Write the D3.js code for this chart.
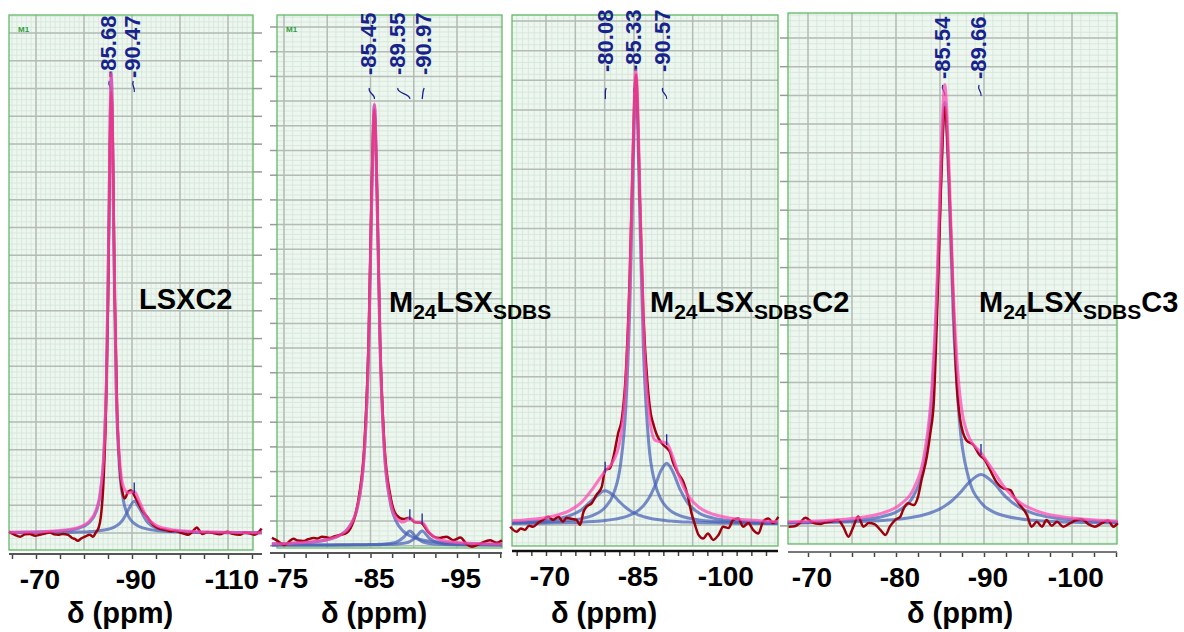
<!DOCTYPE html>
<html>
<head>
<meta charset="utf-8">
<title>29Si MAS NMR spectra</title>
<script src="https://d3js.org/d3.v7.min.js"></script>
<style>
body { margin: 0; background: #fff; }
text { font-family: "Liberation Sans", Arial, sans-serif; }
.comp { fill: none; stroke: #4660b6; stroke-width: 3px; stroke-opacity: 0.72; }
.exp { fill: none; stroke: #a0000e; stroke-width: 2.5px; }
.fit { fill: none; stroke: #ff4cb6; stroke-width: 3px; stroke-opacity: 0.75; }
.tick text { font-size: 28px; font-weight: bold; fill: #000; }
.peaklab { font-size: 22px; font-weight: bold; fill: #17238c; }
</style>
</head>
<body>
<div id="spectra"></div>
<script>
// ---------- data (ppm, intensity in % of main peak) ----------
// panel 1 : LSXC2
var p1Ppm  = [-64.4,-68,-72,-76,-79,-81,-82.5,-83.5,-84.2,-84.7,-85.2,-85.45,-85.68,-85.9,-86.2,-86.7,-87.4,-88.2,-89.2,-90.47,-91.5,-93,-95,-98,-102,-107,-112,-117];
var p1Fit  = [0.14,0.21,0.34,0.65,1.3,2.5,5.0,9.9,18.9,34.5,68.9,91.2,101,92.1,65.7,33.6,16.3,10.2,8.8,9.1,7.0,3.6,1.7,0.8,0.4,0.2,0.1,0.05];
var p1C1   = [0.10,0.16,0.26,0.52,1.09,2.19,4.6,9.3,18.3,33.8,68,90.3,100,91,64.4,32,14.2,7.2,3.8,2.1,1.43,0.91,0.56,0.32,0.18,0.1,0.06,0.04];
var p1C2   = [0.04,0.055,0.08,0.13,0.21,0.30,0.41,0.53,0.65,0.75,0.88,0.96,1.04,1.13,1.26,1.54,2.08,3.06,5.0,7.0,5.5,2.69,1.14,0.46,0.2,0.1,0.06,0.04];
var p1ExpPpm = [-64.4,-65.6,-66.7,-67.7,-68.7,-69.8,-70.8,-71.9,-72.9,-73.8,-74.6,-75.6,-76.7,-77.5,-78.1,-78.7,-79.4,-80.2,-81.2,-81.9,-82.5,-83.0,-83.5,-84.0,-84.5,-85.0,-85.4,-85.68,-86.0,-86.4,-86.9,-87.5,-88.0,-88.5,-89.2,-89.8,-90.4,-91.3,-92.2,-93.1,-94.4,-95.8,-97.0,-97.9,-99.0,-100.0,-101.0,-101.7,-102.6,-103.5,-104.6,-105.8,-106.9,-108.3,-109.8,-111.0,-112.5,-113.4,-114.2,-115.6,-116.4,-117.0];
var p1ExpInt = [0.3,-0.4,-0.8,-0.3,-0.2,-0.6,-0.4,-0.1,0.1,-0.3,-0.4,-0.2,-0.4,-1.1,-1.3,-1.7,-1.2,-0.8,-0.4,-0.8,0.2,1.0,3.5,10,24,50,85,97,86,52,27,14,9,7.6,9.1,9.4,8.4,6.6,4.8,3.6,1.8,0.9,0.7,0.4,0.5,0.1,-0.2,-0.4,0.3,1.2,-0.2,0.2,0,-0.3,0.3,-0.2,-0.4,0.1,0,-0.4,0.2,1.0];
var p1Peaks = [-85.68, -90.47];
var p1TickLabels = [-70, -90, -110];

// panel 2 : M24LSX(SDBS)
var p2Ppm  = [-73.6,-76,-78,-80,-81.5,-82.5,-83.5,-84.3,-84.8,-85.15,-85.45,-85.75,-86.1,-86.6,-87.3,-88.0,-88.8,-89.55,-90.25,-90.97,-91.8,-93,-95,-97.5,-100.2];
var p2Fit  = [0.27,0.42,0.67,1.24,2.3,4.0,8.8,21.5,46.1,80.2,100.2,80.2,46.3,21.7,10.0,6.1,5.2,6.1,5.1,5.1,2.8,1.2,0.58,0.33,0.2];
var p2C1   = [0.26,0.40,0.64,1.2,2.26,3.97,8.65,21.4,46,80,100,80,46,21.4,9.5,5.25,3.1,2.1,1.54,1.17,0.88,0.63,0.39,0.25,0.17];
var p2C2   = [0.01,0.01,0.015,0.02,0.03,0.04,0.055,0.07,0.09,0.1,0.12,0.14,0.16,0.22,0.36,0.67,1.7,3.2,1.81,0.77,0.36,0.16,0.07,0.03,0.02];
var p2C3   = [0.01,0.01,0.01,0.015,0.02,0.025,0.035,0.045,0.055,0.06,0.07,0.073,0.084,0.10,0.145,0.22,0.38,0.77,1.77,3.2,1.54,0.43,0.12,0.05,0.024];
var p2ExpPpm = [-73.6,-74.2,-74.7,-75.1,-75.6,-76.1,-76.6,-77.2,-77.8,-78.4,-78.9,-79.4,-80.3,-80.9,-81.5,-82.2,-82.7,-83.2,-83.7,-84.3,-84.8,-85.15,-85.45,-85.75,-86.1,-86.6,-87.3,-88.0,-88.8,-89.5,-90.1,-90.9,-91.5,-92.3,-93.0,-93.8,-94.6,-95.4,-96.1,-96.7,-97.7,-98.8,-99.6,-100.2];
var p2ExpInt = [1.6,1.0,0.3,0,0.8,1.4,1.0,0.9,1.3,1.6,1.5,1.9,1.6,2.0,2.3,2.7,3.8,6.5,11.5,23,48,82,99,81,47,23,11.2,6.8,5.9,6.2,5.2,5.0,3.4,1.9,1.6,1.9,1.1,1.7,0.2,-0.4,0.3,1.1,0.5,1.1];
var p2Peaks = [-85.45, -89.55, -90.97];
var p2TickLabels = [-75, -85, -95];

// panel 3 : M24LSX(SDBS)C2
var p3Ppm  = [-64.2,-66,-68,-70,-72,-74,-76,-78,-80.08,-81.5,-82.7,-83.6,-84.3,-84.8,-85.1,-85.33,-85.6,-86,-86.6,-87.5,-88.6,-89.6,-90.57,-91.6,-92.8,-94.2,-96,-98.5,-101,-104,-107,-109.5];
var p3Fit  = [0.70,0.85,1.10,1.44,2.0,2.95,4.69,7.86,11.72,13.93,19.1,30.9,53.4,80.6,95.5,99.9,94.1,72.7,44.3,24.9,18.4,18.1,17.8,14.8,10.1,6.27,3.75,2.15,1.4,0.93,0.67,0.53];
var p3C1   = [0.23,0.28,0.35,0.44,0.59,0.81,1.19,1.91,3.65,6.64,13.1,25.6,48.4,75.7,90.6,95,89.1,67.5,38.6,18.0,8.88,5.43,3.67,2.59,1.84,1.31,0.91,0.60,0.42,0.30,0.22,0.18];
var p3C2   = [0.34,0.42,0.57,0.79,1.15,1.82,3.09,5.40,7.3,6.27,4.68,3.63,2.98,2.59,2.39,2.25,2.09,1.89,1.63,1.33,1.05,0.87,0.73,0.62,0.51,0.42,0.34,0.25,0.20,0.15,0.12,0.10];
var p3C3   = [0.13,0.15,0.18,0.21,0.26,0.32,0.41,0.55,0.77,1.02,1.32,1.64,1.97,2.26,2.47,2.65,2.88,3.28,4.02,5.6,8.51,11.76,13.4,11.58,7.72,4.54,2.5,1.30,0.78,0.48,0.33,0.25];
var p3ExpPpm = [-63.9,-65.0,-65.7,-66.4,-67.1,-67.8,-68.7,-69.5,-70.4,-71.2,-72.1,-72.9,-73.5,-74.1,-75.2,-75.8,-76.4,-76.9,-77.8,-78.6,-79.5,-80.1,-80.9,-81.5,-82.3,-82.9,-83.6,-84.3,-84.8,-85.1,-85.33,-85.6,-86.0,-86.6,-87.3,-87.9,-88.3,-88.9,-89.5,-90.0,-90.6,-91.1,-91.7,-92.5,-93.4,-94.2,-94.8,-95.4,-96.0,-96.8,-97.6,-98.5,-99.4,-100.2,-101.1,-101.9,-102.8,-103.6,-104.5,-105.3,-106.2,-107.0,-107.9,-108.7,-109.6];
var p3ExpInt = [-0.6,-1.7,-1.0,-1.3,-0.4,-0.6,0.3,0.9,1.6,0.9,1.6,0.5,1.4,1.2,0.9,-0.2,2.7,3.8,4.6,6.4,8.2,11.9,12.3,14.8,20,22.9,33,56,81,95,99,93,72,46,31,24,22,19.6,18.2,17.4,16.7,15.9,13.4,11.2,9.3,6.0,2.4,-0.2,-2.4,-3.2,-2.1,-3.5,-2.4,-0.6,-0.9,0.9,1.2,-0.6,0.2,-1.3,-2.1,0.5,1.2,0.2,1.6];
var p3Peaks = [-80.08, -85.33, -90.57];
var p3TickLabels = [-70, -85, -100];

// panel 4 : M24LSX(SDBS)C3
var p4Ppm  = [-67.7,-70,-73,-76,-78.5,-80.5,-82,-83.2,-84.1,-84.7,-85.1,-85.54,-86,-86.5,-87.2,-88.2,-89.66,-91,-92.5,-94.2,-96.2,-98.5,-101.5,-105.2];
var p4Fit  = [0.49,0.63,0.93,1.49,2.53,4.46,8.03,15.7,31.8,57.1,82.7,100.1,82.5,53.0,30.6,20.2,16.2,12.3,7.9,4.73,2.83,1.75,1.06,0.65];
var p4C1   = [0.27,0.36,0.55,0.94,1.72,3.3,6.44,13.6,29.1,53.9,79.1,96,77.8,47.5,23.7,10.9,4.85,2.82,1.76,1.14,0.76,0.51,0.34,0.22];
var p4C2   = [0.22,0.27,0.38,0.55,0.81,1.16,1.59,2.12,2.68,3.17,3.57,4.09,4.72,5.54,6.93,9.25,11.3,9.52,6.14,3.59,2.07,1.24,0.72,0.43];
var p4ExpPpm = [-67.8,-68.5,-69.1,-69.7,-70.4,-70.9,-71.4,-72.0,-72.5,-73.4,-74.0,-74.6,-75.1,-75.7,-76.3,-76.9,-77.6,-78.2,-78.8,-79.3,-79.9,-80.5,-80.8,-81.4,-82.0,-82.5,-82.9,-83.5,-83.9,-84.3,-84.7,-85.1,-85.54,-86.0,-86.5,-86.9,-87.3,-88.0,-88.8,-89.5,-90.1,-90.7,-91.4,-92.2,-93.0,-93.5,-94.1,-94.9,-95.4,-96.0,-96.6,-97.1,-97.7,-98.3,-99.0,-99.8,-100.5,-101.1,-101.9,-102.6,-103.4,-104.1,-104.7,-105.2];
var p4ExpInt = [-0.6,-0.5,0.3,1.4,0.5,0.1,0,0.4,0.5,0.9,-0.6,-2.9,-0.9,1.7,-0.6,0.2,-0.1,-1.3,-2.5,-0.6,0.9,1.7,3.2,4.7,4.3,6.2,10,15.3,20.7,28,50,76,95,80,52,32,23.7,19.1,18,15.7,14.6,12.3,9.6,8.1,7.7,5.9,4.3,2.0,-0.6,0.5,-0.6,0.9,-0.4,0.5,-0.6,0.2,0.9,1.1,-0.1,-0.6,0.2,0.8,-0.6,0.2];
var p4Peaks = [-85.54, -89.66];
var p4TickLabels = [-70, -80, -90, -100];

// ---------- layout ----------
var panels = [
  { ppm: p1Ppm, fit: p1Fit, comps: [p1C1, p1C2], expPpm: p1ExpPpm, expInt: p1ExpInt, peaks: p1Peaks, labels: p1TickLabels,
    title: [["LSXC2", 0]], titleX: 139, titleY: 309,
    xd: [-70, -110], xr: [36, 228], yr: [533, 78],
    box: [9, 15, 253, 550], axisY: 554, axisX: [9, 262], tickFrom: -65, tickTo: -115, tickStep: 5,
    vgrid: [-70, -110, 10], vminor: 1, hgrid: [33, 27.78], yTicks: [253, 262],
    peakDx: [-3, -2], labelBottom: 78, markY: 81, showM1: true, axisColor: "#555", xTitle: 120 },
  { ppm: p2Ppm, fit: p2Fit, comps: [p2C1, p2C2, p2C3], expPpm: p2ExpPpm, expInt: p2ExpInt, peaks: p2Peaks, labels: p2TickLabels,
    title: [["M", 0], ["24", 1], ["LSX", 0], ["SDBS", 1]], titleX: 389, titleY: 312,
    xd: [-75, -95], xr: [284, 457], yr: [545, 105],
    box: [277, 15, 502, 548], axisY: 553, axisX: [270, 502], tickFrom: -75, tickTo: -100, tickStep: 2.5,
    vgrid: [-75, -95, 5], vminor: 1, hgrid: [27, 24.7], yTicks: [270, 277],
    peakDx: [-6, -13, 1], labelBottom: 75, markY: 88, showM1: true, axisColor: "#555", xTitle: 374 },
  { ppm: p3Ppm, fit: p3Fit, comps: [p3C1, p3C2, p3C3], expPpm: p3ExpPpm, expInt: p3ExpInt, peaks: p3Peaks, labels: p3TickLabels,
    title: [["M", 0], ["24", 1], ["LSX", 0], ["SDBS", 1], ["C2", 0]], titleX: 650, titleY: 312,
    xd: [-70, -100], xr: [546, 722], yr: [524, 70],
    box: [512, 15, 778, 546], axisY: 551, axisX: [512, 778], tickFrom: -65, tickTo: -107.5, tickStep: 2.5,
    vgrid: [-70, -105, 5], vminor: 1, hgrid: [21, 29.65], yTicks: null,
    peakDx: [0, -3, -5], labelBottom: 72, markY: 88, showM1: false, axisColor: "#111", xTitle: 604 },
  { ppm: p4Ppm, fit: p4Fit, comps: [p4C1, p4C2], expPpm: p4ExpPpm, expInt: p4ExpInt, peaks: p4Peaks, labels: p4TickLabels,
    title: [["M", 0], ["24", 1], ["LSX", 0], ["SDBS", 1], ["C3", 0]], titleX: 979, titleY: 312,
    xd: [-70, -100], xr: [808, 1072], yr: [524, 85],
    box: [788, 13, 1117, 544], axisY: 552, axisX: [788, 1117], tickFrom: -70, tickTo: -105, tickStep: 2.5,
    vgrid: [-70, -100, 5], vminor: 1, hgrid: [38, 28.7], yTicks: [780, 788],
    peakDx: [-3, -3], labelBottom: 79, markY: 85, showM1: false, axisColor: "#777", xTitle: 960 }
];

var svg = d3.select("#spectra").append("svg")
    .attr("width", 1184)
    .attr("height", 632);

var plotLayer = svg.append("g");
var titleLayer = svg.append("g");   // sample names sit above every panel

panels.forEach(function(p, pi) {
  var x = d3.scaleLinear().domain(p.xd).range(p.xr);
  var y = d3.scaleLinear().domain([0, 100]).range(p.yr);
  var g = plotLayer.append("g");
  var b = p.box;

  // plot background
  g.append("rect")
    .attr("x", b[0]).attr("y", b[1])
    .attr("width", b[2] - b[0]).attr("height", b[3] - b[1])
    .attr("fill", "#edf6ef");

  // minor grid
  var lo = Math.min(x.invert(b[0]), x.invert(b[2])), hi = Math.max(x.invert(b[0]), x.invert(b[2]));
  d3.range(Math.ceil(lo), hi, p.vminor).forEach(function(v) {
    g.append("line").attr("x1", x(v)).attr("x2", x(v)).attr("y1", b[1]).attr("y2", b[3])
      .attr("stroke", "#d3e6d8").attr("stroke-width", 0.8);
  });
  var hstep = p.hgrid[1] / 5;
  for (var yy = p.hgrid[0] - 3 * p.hgrid[1]; yy < b[3]; yy += hstep) {
    if (yy <= b[1]) continue;
    g.append("line").attr("x1", b[0]).attr("x2", b[2]).attr("y1", yy).attr("y2", yy)
      .attr("stroke", "#d3e6d8").attr("stroke-width", 0.8);
  }

  // major grid
  d3.range(p.vgrid[0], p.vgrid[1] - 0.01, -p.vgrid[2]).forEach(function(v) {
    g.append("line").attr("x1", x(v)).attr("x2", x(v)).attr("y1", b[1]).attr("y2", b[3])
      .attr("stroke", "#b3bcb5").attr("stroke-width", 1.5);
  });
  var hlines = [];
  for (var hy = p.hgrid[0]; hy < b[3] - 1; hy += p.hgrid[1]) hlines.push(hy);
  hlines.forEach(function(hy) {
    g.append("line").attr("x1", b[0]).attr("x2", b[2]).attr("y1", hy).attr("y2", hy)
      .attr("stroke", "#b3bcb5").attr("stroke-width", 1.5);
    if (p.yTicks) {
      g.append("line").attr("x1", p.yTicks[0]).attr("x2", p.yTicks[1]).attr("y1", hy).attr("y2", hy)
        .attr("stroke", "#9a9a9a").attr("stroke-width", 1.5);
    }
  });

  // green frame
  g.append("rect")
    .attr("x", b[0]).attr("y", b[1])
    .attr("width", b[2] - b[0]).attr("height", b[3] - b[1])
    .attr("fill", "none").attr("stroke", "#62bb66").attr("stroke-width", 1.3);

  if (p.showM1) {
    g.append("text").attr("x", b[0] + 9).attr("y", b[1] + 17)
      .attr("font-size", 8).attr("font-weight", "bold").attr("fill", "#2e9e3a").text("M1");
  }

  // peak labels (rotated) and connector marks
  p.peaks.forEach(function(pk, k) {
    var cx = x(pk) + p.peakDx[k];
    g.append("text").attr("class", "peaklab")
      .attr("transform", "translate(" + (cx + 8) + "," + p.labelBottom + ") rotate(-90)")
      .text(pk.toFixed(2));
    var px = x(pk);
    g.append("path")
      .attr("d", "M" + (cx + 1) + "," + p.markY + " C" + (cx - 1) + "," + (p.markY + 5) + " " +
        (px + 1) + "," + (p.markY + 6) + " " + px + "," + (p.markY + 11))
      .attr("fill", "none").attr("stroke", "#17238c").attr("stroke-width", 1.3);
  });

  var line = d3.line()
    .x(function(d) { return x(d[0]); })
    .y(function(d) { return y(d[1]); })
    .curve(d3.curveMonotoneX);

  // components
  p.comps.forEach(function(c) {
    g.append("path").datum(d3.zip(p.ppm, c)).attr("class", "comp").attr("d", line);
  });
  // experimental
  g.append("path").datum(d3.zip(p.expPpm, p.expInt)).attr("class", "exp").attr("d", line);
  // fitted sum
  g.append("path").datum(d3.zip(p.ppm, p.fit)).attr("class", "fit").attr("d", line);

  // small peak markers on the fit for the side peaks
  p.peaks.forEach(function(pk) {
    var i = p.ppm.indexOf(pk);
    if (p.fit[i] > 50) return;
    var fy = y(p.fit[i]);
    g.append("line").attr("x1", x(pk)).attr("x2", x(pk)).attr("y1", fy - 9).attr("y2", fy + 2)
      .attr("stroke", "#1a2a9a").attr("stroke-width", 1.3);
  });

  // x axis
  var ticks = d3.range(p.tickFrom, p.tickTo - 0.01, -p.tickStep);
  var axis = d3.axisBottom(x)
    .tickValues(ticks)
    .tickSize(5)
    .tickFormat(function(d) { return p.labels.indexOf(d) >= 0 ? d : ""; });
  var ag = g.append("g").attr("transform", "translate(0," + p.axisY + ")").call(axis);
  ag.select(".domain").remove();
  ag.selectAll(".tick line").attr("stroke", "#444").attr("stroke-width", 1.5);
  ag.selectAll(".tick text").attr("dy", "0.95em").attr("dx", "0.12em");
  g.append("line").attr("x1", p.axisX[0]).attr("x2", p.axisX[1])
    .attr("y1", p.axisY).attr("y2", p.axisY)
    .attr("stroke", p.axisColor).attr("stroke-width", pi === 2 ? 2.5 : 1.8);

  g.append("text").attr("x", p.xTitle).attr("y", 623).attr("text-anchor", "middle")
    .attr("font-size", 29).attr("font-weight", "bold").text("δ (ppm)");

  // sample name with subscripts
  var t = titleLayer.append("text").attr("x", p.titleX).attr("y", p.titleY)
    .attr("font-weight", "bold").attr("fill", "#000");
  p.title.forEach(function(part, j) {
    t.append("tspan")
      .attr("font-size", part[1] ? 21 : 29)
      .attr("dy", part[1] ? 7 : (j > 0 ? -7 : 0))
      .text(part[0]);
  });
});
</script>
</body>
</html>
